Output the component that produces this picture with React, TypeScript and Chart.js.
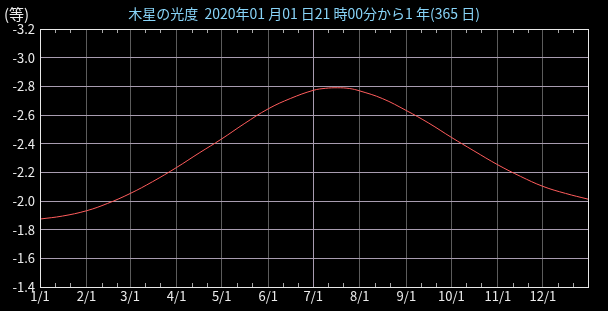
import React, { useEffect, useRef } from 'react';
import { Chart, registerables } from 'chart.js';

Chart.register(...registerables);

// Days elapsed since 2020-01-01 21:00
const dayOffsets = [0, 15, 31, 45, 60, 75, 91, 106, 121, 136, 152, 167, 182, 190, 198, 206, 213, 228, 244, 259, 274, 289, 305, 320, 335, 350, 365];
// Jupiter apparent magnitude
const magnitudes = [-1.874, -1.895, -1.932, -1.983, -2.052, -2.135, -2.234, -2.335, -2.433, -2.539, -2.643, -2.716, -2.772, -2.786, -2.79, -2.785, -2.768, -2.715, -2.631, -2.543, -2.444, -2.35, -2.252, -2.172, -2.102, -2.053, -2.013];

const monthStartDays = [0, 31, 60, 91, 121, 152, 182, 213, 244, 274, 305, 335];
const monthLabels = ['1/1', '2/1', '3/1', '4/1', '5/1', '6/1', '7/1', '8/1', '9/1', '10/1', '11/1', '12/1'];
const minorTickOffsets = [10, 20];

const yMin = -3.2;
const yMax = -1.4;
const yStep = 0.2;

const titleText = '木星の光度  2020年01 月01 日21 時00分から1 年(365 日)';
const unitText = '(等)';

const FONT = '"Noto Sans CJK JP", "Noto Sans", sans-serif';

const framePlugin = {
  id: 'frame',
  afterDatasetsDraw(chart: any) {
    const { ctx, chartArea, scales } = chart;
    const { left, top, right, bottom } = chartArea;
    const x = scales.x;
    ctx.save();
    ctx.lineWidth = 1;
    ctx.strokeStyle = '#a8a8a8';
    ctx.beginPath();
    monthStartDays.forEach((d) => {
      minorTickOffsets.forEach((o) => {
        const v = d + o;
        if (v >= 365) return;
        const px = Math.round(x.getPixelForValue(v)) + 0.5;
        ctx.moveTo(px, bottom);
        ctx.lineTo(px, bottom - 4);
        ctx.moveTo(px, top);
        ctx.lineTo(px, top + 4);
      });
    });
    ctx.stroke();
    ctx.strokeStyle = '#e8e8e8';
    ctx.strokeRect(Math.round(left) + 0.5, Math.round(top) + 0.5, Math.round(right - left), Math.round(bottom - top));
    ctx.restore();
  },
  afterDraw(chart: any) {
    const { ctx, width } = chart;
    ctx.save();
    ctx.textBaseline = 'middle';
    ctx.font = '14px ' + FONT;
    ctx.fillStyle = '#88d4f8';
    ctx.textAlign = 'center';
    ctx.fillText(titleText, width / 2, 14);
    ctx.fillStyle = '#ececec';
    ctx.textAlign = 'left';
    ctx.font = '15px ' + FONT;
    ctx.fillText(unitText, 4, 14);
    ctx.restore();
  },
};

export default function App() {
  const canvasRef = useRef<HTMLCanvasElement | null>(null);

  useEffect(() => {
    document.body.style.margin = '0';
    document.body.style.background = '#000';
    const canvas = canvasRef.current;
    if (!canvas) return;
    const chart = new Chart(canvas, {
      type: 'line',
      data: {
        datasets: [
          {
            data: dayOffsets.map((d, i) => ({ x: d, y: magnitudes[i] })),
            borderColor: '#ff5c5c',
            borderWidth: 1,
            pointRadius: 0,
            tension: 0.4,
            fill: false,
          },
        ],
      },
      options: {
        responsive: false,
        animation: false,
        devicePixelRatio: 1,
        layout: { padding: { top: 29, right: 20, left: 0, bottom: 0 } },
        plugins: {
          legend: { display: false },
          tooltip: { enabled: false },
          title: { display: false },
        },
        scales: {
          x: {
            type: 'linear',
            min: 0,
            max: 365,
            afterBuildTicks: (scale: any) => {
              scale.ticks = monthStartDays.map((v) => ({ value: v }));
            },
            afterFit: (scale: any) => {
              scale.height = 24;
            },
            ticks: {
              autoSkip: false,
              maxRotation: 0,
              color: '#ececec',
              font: { family: FONT, size: 13 },
              padding: 1,
              callback: (value: any) => {
                const idx = monthStartDays.indexOf(Number(value));
                return idx >= 0 ? monthLabels[idx] : '';
              },
            },
            grid: {
              drawTicks: false,
              color: (c: any) => (c.tick && c.tick.value === 182 ? '#a89cb0' : '#5c5c5c'),
              lineWidth: 1,
            },
            border: { display: false },
          },
          y: {
            type: 'linear',
            reverse: true,
            min: yMin,
            max: yMax,
            afterFit: (scale: any) => {
              scale.width = 40;
            },
            ticks: {
              stepSize: yStep,
              color: '#ececec',
              font: { family: FONT, size: 13 },
              padding: 5,
              callback: (value: any) => Number(value).toFixed(1),
            },
            grid: {
              drawTicks: false,
              color: '#a89cb0',
              lineWidth: 1,
            },
            border: { display: false },
          },
        },
      },
      plugins: [framePlugin],
    } as any);
    return () => chart.destroy();
  }, []);

  return (
    <div style={{ width: 608, height: 311, background: '#000' }}>
      <canvas ref={canvasRef} width={608} height={311} style={{ display: 'block' }} />
    </div>
  );
}
